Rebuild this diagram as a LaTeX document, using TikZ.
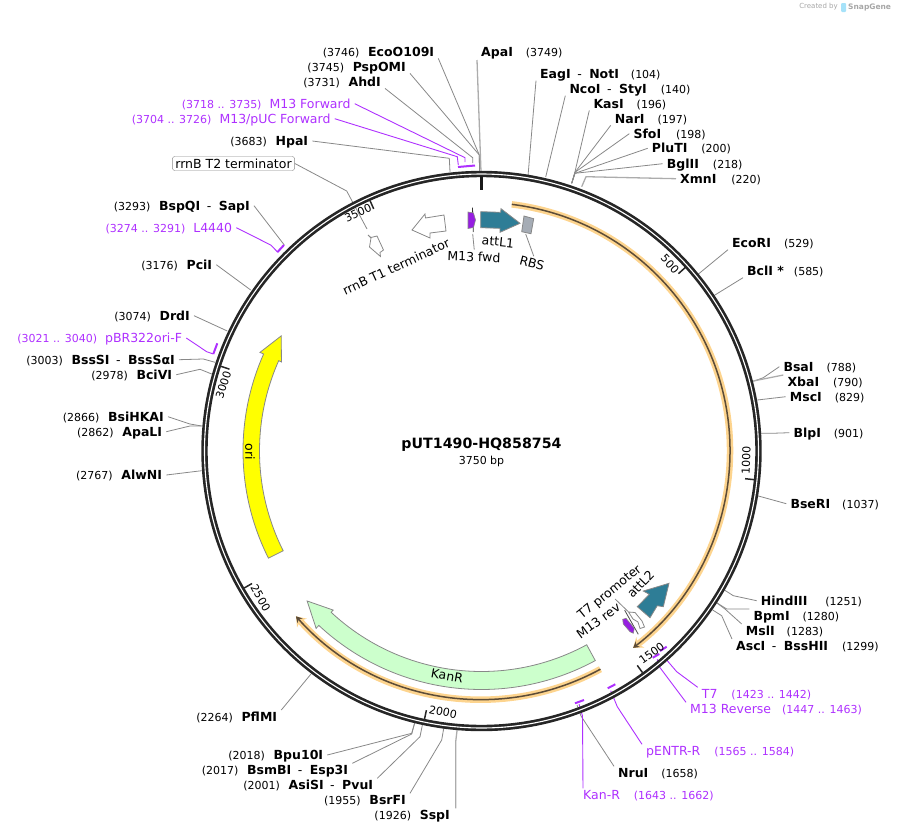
\documentclass[tikz,border=0pt]{standalone}
\usepackage{fontspec}
\setmainfont{DejaVu Sans}
\usetikzlibrary{arrows.meta,positioning,calc}
\definecolor{plgrey}{RGB}{136,136,136}
\definecolor{plprim}{RGB}{174,48,255}
\definecolor{plhilite}{RGB}{253,212,142}
\definecolor{plbrown}{RGB}{92,76,56}
\definecolor{plteal}{RGB}{46,125,150}
\definecolor{plpurple}{RGB}{150,30,225}
\definecolor{plkan}{RGB}{204,255,204}
\definecolor{plrbs}{RGB}{165,172,181}
\definecolor{plyel}{RGB}{255,255,0}
\newcommand{\lfont}{\fontsize{11}{13}\selectfont}
\newcommand{\nfont}{\fontsize{12.5}{14}\selectfont}
\newcommand{\loc}[1]{{\lfont\mdseries #1}}
\newcommand{\hy}{\hspace{6.5pt}{\mdseries -}\hspace{7.5pt}}

\begin{document}
\begin{tikzpicture}[
  x=1pt,y=1pt,
  site/.style={font=\nfont\bfseries,inner xsep=4pt,inner ysep=2pt,text height=9pt,text depth=0pt},
  prim/.style={font=\nfont,text=plprim,inner xsep=4pt,inner ysep=2pt,text height=9pt,text depth=0pt},
  flabel/.style={font=\nfont,inner sep=2pt},
  tickl/.style={font=\lfont,inner sep=0pt},
  lead/.style={draw=plgrey,line width=0.8pt,line join=round},
  leadw/.style={draw=plgrey!70,line width=1.3pt,line join=round},
  plead/.style={draw=plprim,line width=0.9pt,line join=round},
  pbar/.style={draw=plprim,line width=2pt},
  feat/.style={draw=plgrey,line width=0.8pt,line join=miter},
  hilite/.style={draw=plhilite,line width=6.5pt,-{Stealth[length=9pt,width=13pt]}},
  hiline/.style={draw=plbrown,line width=1.5pt,-{Stealth[length=6pt,width=7pt]}}
]
  \useasboundingbox (0,0) rectangle (898,-833);
  \coordinate (ctr) at (481.5,-451);

  % watermark
  \node[font=\fontsize{7}{8}\selectfont,text=gray!70,anchor=east,inner sep=0pt] (made) at (838,-7) {Created by};
  \node[font=\fontsize{7.5}{8}\selectfont\bfseries,text=gray!70,anchor=west,inner sep=0pt] (snap) at (848,-7) {SnapGene};
  \fill[cyan!35,rounded corners=1pt] (841,-3) rectangle (846,-12);

  % enzyme sites, top
  \node[site,anchor=east] (ecoo) at (438.3,-51.7) {\loc{(3746)}\hspace{8.7pt}EcoO109I};
  \node[site,anchor=east] (psp) at (410,-66.7) {\loc{(3745)}\hspace{8.7pt}PspOMI};
  \node[site,anchor=east] (ahd) at (385,-81.7) {\loc{(3731)}\hspace{8.7pt}AhdI};
  \node[site,anchor=east] (hpa) at (312.3,-141) {\loc{(3683)}\hspace{8.7pt}HpaI};
  \node[site,anchor=west] (apa) at (477,-52) {ApaI\hspace{13pt}\loc{(3749)}};
  \node[site,anchor=west] (eag) at (536,-74) {EagI\hy NotI\hspace{12pt}\loc{(104)}};
  \node[site,anchor=west] (nco) at (565.3,-89) {NcoI\hy StyI\hspace{14pt}\loc{(140)}};
  \node[site,anchor=west] (kas) at (589.3,-103.7) {KasI\hspace{13pt}\loc{(196)}};
  \node[site,anchor=west] (nar) at (610.7,-118.7) {NarI\hspace{13pt}\loc{(197)}};
  \node[site,anchor=west] (sfo) at (629.3,-133.7) {SfoI\hspace{15pt}\loc{(198)}};
  \node[site,anchor=west] (plu) at (647.7,-148.3) {PluTI\hspace{14pt}\loc{(200)}};
  \node[site,anchor=west] (bgl) at (662.7,-163.7) {BglII\hspace{14pt}\loc{(218)}};
  \node[site,anchor=west] (xmn) at (676,-178.7) {XmnI\hspace{15pt}\loc{(220)}};

  % enzyme sites, right
  \node[site,anchor=west] (ecor) at (728,-243) {EcoRI\hspace{13pt}\loc{(529)}};
  \node[site,anchor=west] (bcl) at (743,-271) {BclI *\hspace{10pt}\loc{(585)}};
  \node[site,anchor=west] (bsa) at (779.3,-366.7) {BsaI\hspace{13pt}\loc{(788)}};
  \node[site,anchor=west] (xba) at (783.3,-381.7) {XbaI\hspace{14pt}\loc{(790)}};
  \node[site,anchor=west] (msc) at (785.7,-396.7) {MscI\hspace{13pt}\loc{(829)}};
  \node[site,anchor=west] (blp) at (789.3,-432.7) {BlpI\hspace{13pt}\loc{(901)}};
  \node[site,anchor=west] (bse) at (786.3,-503.7) {BseRI\hspace{12pt}\loc{(1037)}};
  \node[site,anchor=west] (hind) at (756.7,-600.7) {HindIII\hspace{18pt}\loc{(1251)}};
  \node[site,anchor=west] (bpm) at (749.3,-615.7) {BpmI\hspace{13pt}\loc{(1280)}};
  \node[site,anchor=west] (msl) at (741.7,-630.7) {MslI\hspace{12pt}\loc{(1283)}};
  \node[site,anchor=west] (asc) at (732,-645.7) {AscI\hy BssHII\hspace{14pt}\loc{(1299)}};
  \node[site,anchor=west] (nru) at (614,-773) {NruI\hspace{13pt}\loc{(1658)}};

  % enzyme sites, bottom
  \node[site,anchor=east] (pfl) at (281.3,-716.7) {\loc{(2264)}\hspace{8.7pt}PflMI};
  \node[site,anchor=east] (bpu) at (327.3,-755) {\loc{(2018)}\hspace{8.7pt}Bpu10I};
  \node[site,anchor=east] (bsm) at (352.3,-770) {\loc{(2017)}\hspace{8.7pt}BsmBI\hy Esp3I};
  \node[site,anchor=east] (asi) at (377.3,-785) {\loc{(2001)}\hspace{8.7pt}AsiSI\hy PvuI};
  \node[site,anchor=east] (bsr) at (410,-800) {\loc{(1955)}\hspace{8.7pt}BsrFI};
  \node[site,anchor=east] (ssp) at (454,-815) {\loc{(1926)}\hspace{8.7pt}SspI};

  % enzyme sites, left
  \node[site,anchor=east] (bsp) at (254,-205.7) {\loc{(3293)}\hspace{8.7pt}BspQI\hy SapI};
  \node[site,anchor=east] (pci) at (216.3,-264.7) {\loc{(3176)}\hspace{8.7pt}PciI};
  \node[site,anchor=east] (drd) at (194,-315.7) {\loc{(3074)}\hspace{8.7pt}DrdI};
  \node[site,anchor=east] (bss) at (179,-359.7) {\loc{(3003)}\hspace{8.7pt}BssSI\hy BssSαI};
  \node[site,anchor=east] (bci) at (176.3,-374.7) {\loc{(2978)}\hspace{8.7pt}BciVI};
  \node[site,anchor=east] (bsi) at (168,-416.7) {\loc{(2866)}\hspace{8.7pt}BsiHKAI};
  \node[site,anchor=east] (apl) at (166.3,-431.7) {\loc{(2862)}\hspace{8.7pt}ApaLI};
  \node[site,anchor=east] (alw) at (166.3,-475) {\loc{(2767)}\hspace{8.7pt}AlwNI};

  % primers
  \node[prim,anchor=east] (mfor) at (354.7,-103.7) {\loc{(3718 .. 3735)}\hspace{8pt}M13 Forward};
  \node[prim,anchor=east] (mpuc) at (334.7,-118.7) {\loc{(3704 .. 3726)}\hspace{8pt}M13/pUC Forward};
  \node[prim,anchor=east] (l44) at (236.3,-227.7) {\loc{(3274 .. 3291)}\hspace{8pt}L4440};
  \node[prim,anchor=east] (pbr) at (186.3,-338) {\loc{(3021 .. 3040)}\hspace{8pt}pBR322ori-F};
  \node[prim,anchor=west] (ptsv) at (697.7,-694) {T7\hspace{14pt}\loc{(1423 .. 1442)}};
  \node[prim,anchor=west] (mrev) at (686,-709) {M13 Reverse\hspace{11pt}\loc{(1447 .. 1463)}};
  \node[prim,anchor=west] (pent) at (642,-751) {pENTR-R\hspace{14pt}\loc{(1565 .. 1584)}};
  \node[prim,anchor=west] (kanr) at (579,-795) {Kan-R\hspace{14pt}\loc{(1643 .. 1662)}};

  % feature labels
  \node[flabel,draw=plgrey,rounded corners=2.5pt,inner xsep=3pt,inner ysep=1pt,minimum height=14pt] (tt) at (233.5,-163.5) {rrnB T2 terminator};
  \node[flabel,rotate=25] (tone) at (396,-266.7) {rrnB T1 terminator};
  \node[flabel,rotate=-2] (mfwd) at (474,-256.7) {M13 fwd};
  \node[flabel,rotate=-6] (aone) at (498,-241.7) {attL1};
  \node[flabel,rotate=-15] (rbs) at (532,-263) {RBS};
  \node[flabel,rotate=39] (tsev) at (610,-592.7) {T7 promoter};
  \node[flabel,rotate=36] (mrv) at (598.3,-620.7) {M13 rev};
  \node[flabel,rotate=46] (atwo) at (640.7,-584) {attL2};

  % free ends on the ring
  \coordinate (ecoo-r) at (479.5,-171);   \coordinate (psp-r) at (479.5,-171);
  \coordinate (ahd-r) at (472.7,-163);    \coordinate (hpa-r) at (450,-172);
  \coordinate (apa-r) at (481,-172);      \coordinate (eag-r) at (528,-176);
  \coordinate (nco-r) at (545.7,-177);    \coordinate (kas-r) at (571.7,-183.3);
  \coordinate (nar-r) at (571.7,-183.3);  \coordinate (sfo-r) at (571.7,-183.3);
  \coordinate (plu-r) at (571.7,-183.3);  \coordinate (bgl-r) at (571.7,-183.3);
  \coordinate (xmn-r) at (581.7,-186.7);  \coordinate (ecor-r) at (696,-276);
  \coordinate (bcl-r) at (711.7,-297);    \coordinate (bsa-r) at (753.3,-381.3);
  \coordinate (xba-r) at (753.3,-381);    \coordinate (msc-r) at (757.3,-400);
  \coordinate (blp-r) at (761,-433.3);    \coordinate (bse-r) at (757.3,-495.7);
  \coordinate (hind-r) at (723.3,-589.3); \coordinate (bpm-r) at (716,-602.3);
  \coordinate (msl-r) at (716,-602.3);    \coordinate (asc-r) at (712.7,-610);
  \coordinate (nru-r) at (577,-705);      \coordinate (pfl-r) at (311,-674);
  \coordinate (bpu-r) at (415,-721.7);    \coordinate (bsm-r) at (415,-721.7);
  \coordinate (asi-r) at (422.7,-723.3);  \coordinate (bsr-r) at (444,-726.7);
  \coordinate (ssp-r) at (457.3,-728.3);  \coordinate (bsp-r) at (284.3,-245);
  \coordinate (pci-r) at (250.7,-290);    \coordinate (drd-r) at (227.3,-331);
  \coordinate (bss-r) at (215,-362.3);    \coordinate (bci-r) at (211.7,-374);
  \coordinate (bsi-r) at (201.7,-426);    \coordinate (apl-r) at (201.7,-426);
  \coordinate (alw-r) at (201.7,-470.7);  \coordinate (tt-r) at (367,-229);
  \coordinate (mfor-r) at (465,-162);     \coordinate (mpuc-r) at (458.3,-165);
  \coordinate (l44-r) at (277.3,-251.7);  \coordinate (pbr-r) at (213.3,-354);
  \coordinate (ptsv-r) at (666.7,-660);   \coordinate (mrev-r) at (657.3,-659.3);
  \coordinate (pent-r) at (610.7,-690.7); \coordinate (kanr-r) at (579,-704);
  \coordinate (tsev-r) at (628.3,-611.7); \coordinate (mrv-r) at (638.3,-634.3);
  \coordinate (mfwd-r) at (472.7,-234);   \coordinate (rbs-r) at (525.7,-234);

  % leaders
  \draw[lead] (ecoo.south east) -- (479.3,-155) -- (ecoo-r);
  \draw[lead] (psp.south east) -- (479.3,-155) -- (psp-r);
  \draw[lead] (ahd.south east) -- (472.7,-157.7) -- (ahd-r);
  \draw[lead] (hpa.east) -- (449.3,-158.3) -- (hpa-r);
  \draw[leadw] (apa.north west |- 0,-60) -- (apa-r);
  \draw[lead] (eag.south west) -- (eag-r);
  \draw[lead] (nco.south west) -- (nco-r);
  \draw[lead] (kas.south west) -- (575,-171.7) -- (kas-r);
  \draw[lead] (nar.south west) -- (575,-172.3) -- (nar-r);
  \draw[lead] (sfo.west) -- (575,-172.3) -- (sfo-r);
  \draw[lead] (plu.west) -- (575,-173.3) -- (plu-r);
  \draw[lead] (bgl.west) -- (575,-173.3) -- (bgl-r);
  \draw[leadw] (xmn.west) -- (586,-176.7) -- (xmn-r);
  \draw[lead] (ecor.south west) -- (ecor-r);
  \draw[lead] (bcl.south west) -- (bcl-r);
  \draw[lead] (bsa.west) -- (763.3,-377.7) -- (bsa-r);
  \draw[leadw] (xba.north west) -- (xba-r);
  \draw[lead] (msc.west) -- (msc-r);
  \draw[lead] (blp.west) -- (771.7,-433.3) -- (blp-r);
  \draw[lead] (bse.west) -- (bse-r);
  \draw[lead] (hind.west) -- (733.3,-595.7) -- (hind-r);
  \draw[lead] (bpm.north west) -- (726.7,-609) -- (bpm-r);
  \draw[lead] (msl.north west) -- (725,-609) -- (msl-r);
  \draw[lead] (asc.north west) -- (721.7,-615.7) -- (asc-r);
  \draw[lead] (nru.north west) -- (581,-716) -- (nru-r);
  \draw[lead] (pfl.north east) -- (pfl-r);
  \draw[lead] (bpu.east) -- (411.7,-733.3) -- (bpu-r);
  \draw[lead] (bsm.north east) -- (411.7,-734) -- (bsm-r);
  \draw[lead] (asi.north east) -- (420,-736.7) -- (asi-r);
  \draw[lead] (bsr.north east) -- (441.7,-740) -- (bsr-r);
  \draw[leadw] (ssp.north east) ++(1.7,0) -- (455.7,-741.7) -- (ssp-r);
  \draw[lead] (bsp.east) -- (bsp-r);
  \draw[lead] (pci.east) -- (pci-r);
  \draw[lead] (drd.east) -- (drd-r);
  \draw[lead] (bss.east) -- (203.3,-359) -- (bss-r);
  \draw[lead] (bci.east) -- (200,-369.3) -- (bci-r);
  \draw[lead] (bsi.east) -- (190,-424) -- (bsi-r);
  \draw[lead] (apl.east) -- (190,-426) -- (apl-r);
  \draw[lead] (alw.east) -- (alw-r);
  \draw[lead] (tt.east) -- (346.7,-191) -- (tt-r);
  \draw[plead] (mfor.east) -- (465,-157.7) -- (mfor-r);
  \draw[plead] (mpuc.east) -- (457.3,-156.7) -- (mpuc-r);
  \draw[plead] (l44.east) -- (270.7,-245) -- (l44-r);
  \draw[plead] (pbr.east) -- (206.7,-351.7) -- (pbr-r);
  \draw[plead] (ptsv.north west) -- (676.7,-671.7) -- (ptsv-r);
  \draw[plead] (mrev.north west) -- (659.3,-666.7) -- (mrev-r);
  \draw[plead] (pent.north west) -- (617.3,-706.7) -- (pent-r);
  \draw[plead] (kanr.north west) ++(4,0) -- (582.5,-716) -- (kanr-r);
  \draw[lead] (tsev.south) -- (tsev-r);
  \draw[lead] (mfwd.north) -- (mfwd-r);
  \draw[lead] (rbs.north) -- (rbs-r);

  % primer marks
  \draw[pbar] (458,-167) -- (475,-165.5);
  \draw[pbar] (277.3,-252.3) -- (284,-245);
  \draw[pbar] (213.3,-354) -- (217.3,-343.3);
  \draw[pbar] (660,-651) -- (666.7,-646.7);
  \draw[pbar] (652.7,-657.7) -- (659.3,-654);
  \draw[pbar] (607.7,-688.3) -- (615.3,-684.3);
  \draw[pbar] (575,-703.3) -- (584,-700);

  \begin{scope}[shift={(ctr)}]
    % ring
    \draw[line width=6.4pt,black!85] (0,0) circle (277);
    \draw[line width=1.1pt,white] (0,0) circle (277);
    % ticks
    \draw[line width=2.7pt,black!90] (90:275) -- (90:261);
    \foreach \a in {42,-6,-54,-102,-150,-198,-246}
      \draw[line width=1.5pt,black!85] (\a:274) -- (\a:265);
    % MCS and KanR highlights
    \draw[hilite] (83:248.5) arc (83:-52.4:248.5);
    \draw[hiline] (83:248.5) arc (83:-52.4:248.5);
    \draw[hilite] (-61.4:248.5) arc (-61.4:-138.3:248.5);
    \draw[hiline] (-61.4:248.5) arc (-61.4:-138.3:248.5);
    % KanR
    \draw[feat,fill=plkan] (298.5:238.5) arc (298.5:227:238.5) -- (227:242.5) -- (220.7:230)
      -- (227:217.5) -- (227:220.5) arc (227:298.5:220.5) -- cycle;
    % ori
    \draw[feat,fill=plyel] (156:238.5) arc (156:206.7:238.5) -- (206.7:222) arc (206.7:156:222)
      -- (156:219) -- (150.1:231) -- (156:242.5) -- cycle;
  \end{scope}

  % small features
  \draw[feat,fill=plteal] (480.7,-211.7) -- (500.7,-212.3) -- (501,-208.7) -- (520,-223.3)
    -- (500,-232.3) -- (500,-228.3) -- (480.7,-227.7) -- cycle;
  \draw[feat,fill=plteal] (669,-583.3) -- (663.3,-606.7) -- (657.3,-605.7) -- (650,-617.7)
    -- (637.3,-606.7) -- (649.3,-594.3) -- (643.3,-591) -- cycle;
  \draw[feat,fill=plrbs] (524,-216) -- (533.7,-218.7) -- (531,-233.7) -- (521.7,-231.7) -- cycle;
  \draw[feat,fill=white] (412,-230) -- (425,-214) -- (425.5,-218) -- (444,-215) -- (446,-231)
    -- (430,-233) -- (430,-238) -- cycle;
  \draw[feat,fill=white] (368,-235) -- (371,-237.5) -- (377,-236) -- (383.5,-250) -- (380,-252.5)
    -- (380.5,-256.5) -- (369.5,-247) -- (371,-238) -- cycle;
  \draw[feat,fill=white] (628.5,-612) -- (635,-612.5) -- (642,-621) -- (644.5,-627) -- (640,-628.5)
    -- (638,-622) -- (633,-619) -- cycle;
  \draw[line width=0.8pt,black!80] (472.5,-207.7) -- (473.3,-232);
  \draw[draw=plgrey,line width=0.6pt,fill=plpurple] (468,-212) -- (473.5,-213) -- (475.5,-220)
    -- (473.5,-227.5) -- (468,-228.5) -- cycle;
  \draw[lead,draw=black!70] (mrv.south east) -- (mrv-r);
  \draw[draw=plgrey,line width=0.6pt,fill=plpurple] (622.7,-619.3) -- (626,-618.3) -- (634.3,-628.3)
    -- (633.3,-633.3) -- (630,-631.7) -- (623.3,-624) -- cycle;

  % texts on features
  \node[flabel,rotate=-90] (oril) at (250,-451.7) {ori};
  \node[flabel,rotate=-10] (kanl) at (447,-676) {KanR};

  % scale marks
  \node[tickl,rotate=-48] (tfive) at (670,-264) {500};
  \node[tickl,rotate=88] (tten) at (746,-460) {1000};
  \node[tickl,rotate=36] (tfif) at (651.7,-653) {1500};
  \node[tickl,rotate=-12] (ttwo) at (443,-712) {2000};
  \node[tickl,rotate=-60] (ttwf) at (260.7,-598) {2500};
  \node[tickl,rotate=72] (tthr) at (223.3,-385) {3000};
  \node[tickl,rotate=24] (tthf) at (358,-213) {3500};

  % title
  \node[font=\fontsize{14.2}{16}\selectfont\bfseries,inner sep=0pt] (title) at (481.5,-445) {pUT1490-HQ858754};
  \node[font=\lfont,inner sep=0pt] (size) at (481.5,-461) {3750 bp};
\end{tikzpicture}
\end{document}
